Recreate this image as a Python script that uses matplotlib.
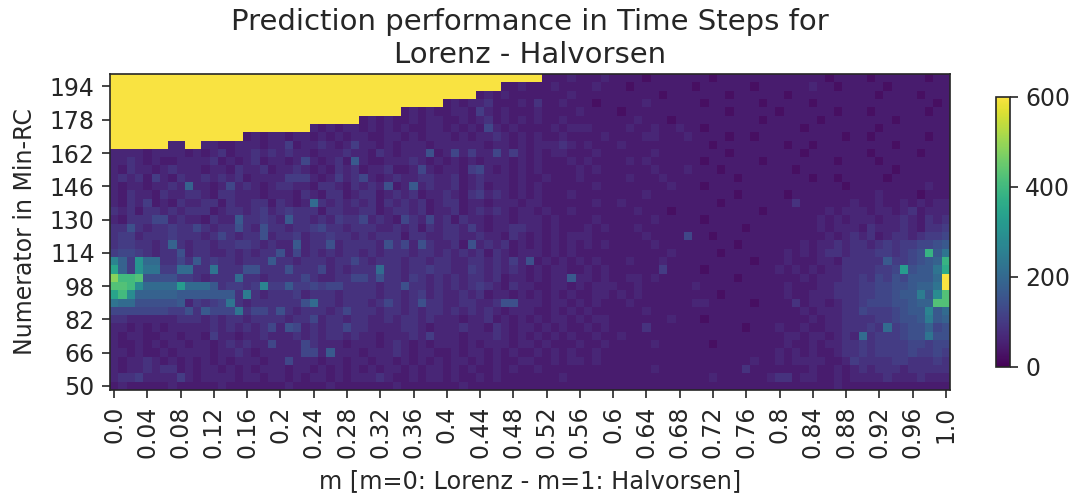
import numpy as np
import matplotlib
matplotlib.use("Agg")
import matplotlib.pyplot as plt
from matplotlib.colors import ListedColormap

title = "Prediction performance in Time Steps for\nLorenz - Halvorsen"
xlabel = "m [m=0: Lorenz - m=1: Halvorsen]"
ylabel = "Numerator in Min-RC"
m_labels = ["0.0","0.04","0.08","0.12","0.16","0.2","0.24","0.28","0.32","0.36","0.4","0.44","0.48",
            "0.52","0.56","0.6","0.64","0.68","0.72","0.76","0.8","0.84","0.88","0.92","0.96","1.0"]
num_labels = [194,178,162,146,130,114,98,82,66,50]
cbar_ticks = [0,200,400,600]

# each character is a cell: value = 25 + 20*(base-36 digit), capped at 600
cells = [
"tttttttttt tttttttttt tttttttttt tttttttttt tttttttttt tt11121112 1111011111 1101111111 1111110111 1011111101 1",
"tttttttttt tttttttttt tttttttttt tttttttttt ttttttt112 1112111121 1101111111 0111111011 1111211011 1110111111 1",
"tttttttttt tttttttttt tttttttttt tttttttttt tttt121211 1111121111 1111110111 1111011111 1011111111 1101111011 1",
"tttttttttt tttttttttt tttttttttt tttttttttt 1212231112 1311211101 1111211111 1011111101 1111011111 1111111110 1",
"tttttttttt tttttttttt tttttttttt ttttt12121 1221421211 1211112111 1011111111 1111011111 0111111011 1011111101 1",
"tttttttttt tttttttttt tttttttttt 1212112122 1121231212 1211211111 1112111011 1111111101 1111101111 1111011111 1",
"tttttttttt tttttttttt tttt212122 1212121122 1212152121 1112122211 1121121121 1011111111 1110111111 1101111111 1",
"tttttttttt tttttt1212 2122121212 2112212122 2121223212 1211211112 1111221112 1111011011 1111111101 1011111101 1",
"ttttttt22t t221122212 2412232124 2212122212 2222212212 1222321211 1211111111 1101111111 1011011111 1111011111 1",
"2222122221 2123122323 2322122232 2132122261 2524225242 1212211121 1111121111 1111011111 1110111111 1011111011 1",
"2232121122 2231212312 2125212317 2112223212 1212122212 1211121211 1121211111 1011111101 1111111011 1101111111 1",
"2132212322 2122132231 2232121323 1223112521 2214521212 1211112121 1111121112 1110111111 1101111111 1111011111 1",
"2323142132 2323231222 2444212423 5212322332 2312322212 1121112111 1121112111 1111101111 1111011011 1110111111 1",
"2122122328 2212523212 3322133213 2326127232 2312312212 1211111121 1111111211 1011111111 1111111101 1111111121 1",
"2132213223 3213322212 2213213312 3312323122 3213423212 1211121111 1111211111 1111101111 1011111111 1121111011 1",
"2132412132 2331322331 3212932323 2313232312 3312212221 2211111121 1211111111 1110111111 1131111112 1121121212 2",
"3231332323 3312332342 3433313322 3312332312 2312323212 2121121111 1112111011 1111111101 1111112122 2122123122 2",
"2133355232 2132273343 2733232433 5232153252 3132212212 2212111121 1111121111 1011111111 1111121212 2212232132 3",
"3363233433 5323363263 3233453323 3322323132 3324212233 2212111212 1112111111 1111110111 1111121222 1322232133 4",
"3442333433 3235323362 3342334332 3233313322 3322322132 1212122211 1111211115 1101111111 1111112123 2312332344 5",
"3443323832 3323344323 2272336233 3326352632 2316232312 1212121212 1111121111 1111101111 1112122323 3234344556 7",
"4554323362 3322323233 6252323233 2323332332 3232313212 2212121111 1111111211 1110111111 1212123323 33443456i7 a",
"c84e993353 7343323337 3323332335 3233323323 3223323242 6121212121 1121112111 1111111011 1211122133 3337445678 i",
"g84eaa4499 33a3336633 3633352323 3393323343 3224323232 1212211212 1111114111 1011111111 2121212233 33445f677a h",
"njjk666644 3233393323 3335322335 5363324323 2323323122 1212272212 1122121111 1111101111 1112122233 4354657779 t",
"kkjd9999f9 99734434c4 4744545533 3323363323 2323432132 2112212122 2112111111 2111111111 1211122333 445566788a t",
"gjd8888877 777773b323 3342333233 3323323423 2232312212 1212121122 1212111111 1110111111 1211222333 4455677b7d k",
"a996666672 4345a32333 3336933233 3235323633 2233223662 2212212121 1121111111 2211111011 1131221233 455566788k k",
"5555555446 37555a3553 6323332353 3323323233 2323232122 2112121211 1111211111 1111111111 1112122233 54445677c7 9",
"3322222233 3232332333 3233523323 3223233232 2212231212 1212212122 1111111211 1011111111 1111212233 33445667b7 8",
"2212121222 2232323235 2652323353 3222233212 2232213212 2121211212 1111311111 1111110111 2112112233 3439456685 6",
"2122112212 2142212232 2232323323 2212223242 2212223212 1212121121 1211111111 1111111111 1221221232 93444566a6 6",
"2112121221 2212323225 2225322212 2212321212 2212122212 2121112112 1111121111 1101111111 1211212233 4344445545 5",
"2212112122 2212232122 2225527222 1222321221 1212212121 1212121121 1111111111 1111111111 2121211233 4344445445 4",
"2122321212 1212122212 2522212212 2122121212 1221212112 2112122121 1111111111 1111111211 2122221124 3333443334 3",
"2122323312 1221212122 2122121212 1212212122 1212112121 1211111111 1111121111 1111113111 1111211212 3233323333 3",
"2334222242 1222212212 2121221212 2232112122 1211212111 1111211111 1111111111 1121111112 3312211212 2223222322 2",
"1211111211 1112111111 1211112111 1111211111 1121111111 1111111111 1111111111 1111111111 1111111211 1111111111 1",
]

Z = np.array([[min(25 + 20 * int(ch, 36), 600) for ch in row.replace(" ", "")] for row in cells], dtype=float)
nrows, ncols = Z.shape

# viridis, with the slightly paler top end of the screenshot
base = plt.get_cmap("viridis")(np.linspace(0, 1, 256))[:, :3]
t = np.linspace(0, 1, 256)[:, None]
w = 0.15 * t ** 2
cmap = ListedColormap(base * (1 - w) + np.array([0.9, 0.8, 0.9]) * w)

ink = "#262626"
fig = plt.figure(figsize=(10.75, 4.94), dpi=100)
W, H = 1075, 494
ax = fig.add_axes([110/W, 1-390/H, 840/W, 316/H])
im = ax.imshow(Z, cmap=cmap, vmin=0, vmax=600, aspect="auto", interpolation="nearest")

ax.set_xticks(np.arange(0, ncols, 4))
ax.set_xticklabels(m_labels, rotation=90, fontsize=17, color=ink)
ax.set_yticks(np.arange(1, nrows, 4))
ax.set_yticklabels(num_labels, fontsize=17, color=ink)
ax.tick_params(length=6, width=1.2, color=ink, pad=5)
ax.set_xlabel(xlabel, fontsize=17.3, color=ink, labelpad=8)
ax.set_ylabel(ylabel, fontsize=17, color=ink, labelpad=9)
ax.set_title(title, fontsize=21, color=ink, pad=8, linespacing=1.22)
for s in ax.spines.values():
    s.set_linewidth(1.2)
    s.set_color(ink)

cax = fig.add_axes([996/W, 1-367/H, 14/W, 270/H])
cb = fig.colorbar(im, cax=cax)
cb.set_ticks(cbar_ticks)
cb.ax.tick_params(labelsize=17, length=6, width=1.2, color=ink, labelcolor=ink, pad=5)
cb.outline.set_linewidth(1.2)
cb.outline.set_edgecolor(ink)

fig.savefig("out.png", dpi=100)
